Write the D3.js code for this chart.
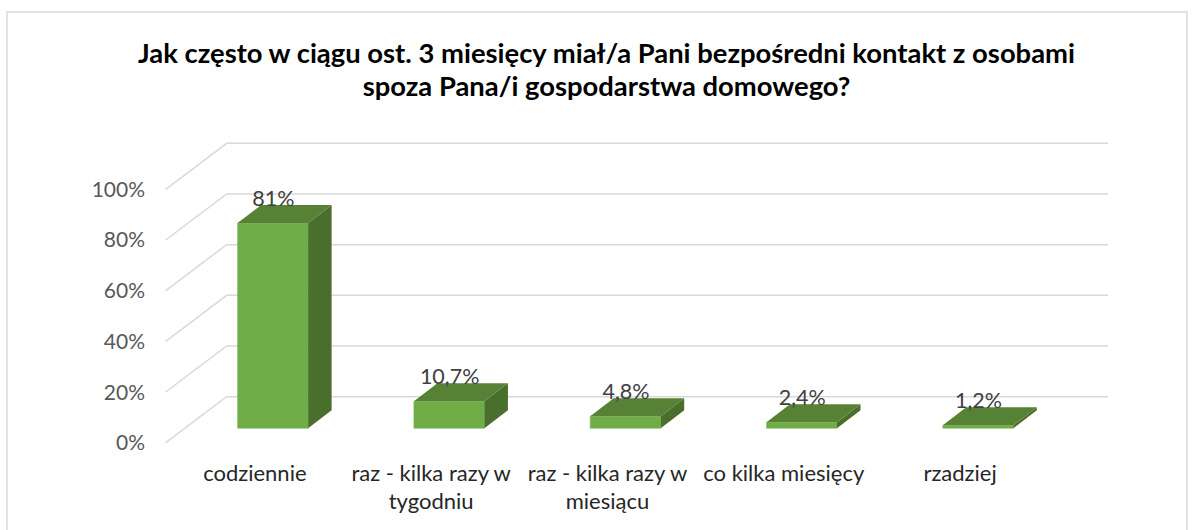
<!DOCTYPE html>
<html><head><meta charset="utf-8">
<script src="https://cdn.jsdelivr.net/npm/d3@7"></script>
<style>html,body{margin:0;padding:0;background:#fff;overflow:hidden}svg{display:block}text{font-family:Lato,Carlito,Calibri,sans-serif}</style>
</head><body><svg id="c" width="1194" height="530"></svg>
<script>
const titleLines=["Jak często w ciągu ost. 3 miesięcy miał/a Pani bezpośredni kontakt z osobami","spoza Pana/i gospodarstwa domowego?"];
const categories=["codziennie","raz - kilka razy w tygodniu","raz - kilka razy w miesiącu","co kilka miesięcy","rzadziej"];
const values=[81,10.7,4.8,2.4,1.2];
const valueLabels=["81%","10,7%","4,8%","2,4%","1,2%"];
const ticks=[0,20,40,60,80,100];

const svg=d3.select("#c");
svg.append("rect").attr("x",7).attr("y",12).attr("width",1180).attr("height",530)
  .attr("fill","#fff").attr("stroke","#d9d9d9").attr("stroke-width",1.5);
svg.append("g").selectAll("text").data(titleLines).join("text")
  .attr("x",606.5).attr("y",(d,i)=>63+i*33).attr("text-anchor","middle")
  .attr("font-size",27.4).attr("font-weight",700).attr("fill","#000").text(d=>d);

const y=d3.scaleLinear().domain([0,100]).range([442.7,189.3]);
const x=d3.scaleBand().domain(categories).range([165.7,1047.2]).paddingInner(0.6).paddingOuter(0.3);
const wallDx=61,wallDy=-46, barOffX=19,barOffY=-14.4, barDx=23.5,barDy=-18;

const grid=svg.append("g").attr("fill","none").attr("stroke","#d9d9d9").attr("stroke-width",1.5);
grid.selectAll("path").data(ticks).join("path")
  .attr("d",t=>{const p=d3.path();p.moveTo(165.7,y(t));p.lineTo(165.7+wallDx,y(t)+wallDy);p.lineTo(1108,y(t)+wallDy);return p.toString();});

svg.append("g").selectAll("text").data(ticks).join("text")
  .attr("x",145).attr("y",t=>y(t)+7.5).attr("text-anchor","end")
  .attr("font-size",21).attr("fill","#595959").text(t=>t+"%");

const bars=svg.append("g").selectAll("g").data(categories).join("g");
bars.each(function(c,i){
  const g=d3.select(this), bw=x.bandwidth();
  const x0=x(c)+barOffX, x1=x0+bw, yb=y(0)+barOffY, yt=y(values[i])+barOffY;
  const poly=pts=>pts.map(p=>p.join(",")).join(" ");
  g.append("polygon").attr("points",poly([[x0,yt],[x1,yt],[x1,yb],[x0,yb]])).attr("fill","#70ad47").attr("stroke","#7fb85a").attr("stroke-width",.6);
  g.append("polygon").attr("points",poly([[x1,yt],[x1+barDx,yt+barDy],[x1+barDx,yb+barDy],[x1,yb]])).attr("fill","#4a6e2b");
  g.append("polygon").attr("points",poly([[x0,yt],[x0+barDx,yt+barDy],[x1+barDx,yt+barDy],[x1,yt]])).attr("fill","#578235");
  g.append("text").attr("x",(x0+x1)/2+.5).attr("y",yt+barDy+.5).attr("text-anchor","middle")
   .attr("font-size",21.5).attr("fill","#404040").text(valueLabels[i]);
});

const catLines=[["codziennie"],["raz - kilka razy w","tygodniu"],["raz - kilka razy w","miesiącu"],["co kilka miesięcy"],["rzadziej"]];
const cg=svg.append("g");
categories.forEach((c,i)=>{
  const cx=x(c)+x.bandwidth()/2;
  catLines[i].forEach((l,j)=>cg.append("text").attr("x",cx+1).attr("y",481+j*28).attr("text-anchor","middle")
    .attr("font-size",22).attr("fill","#262626").text(l));
});
</script></body></html>
